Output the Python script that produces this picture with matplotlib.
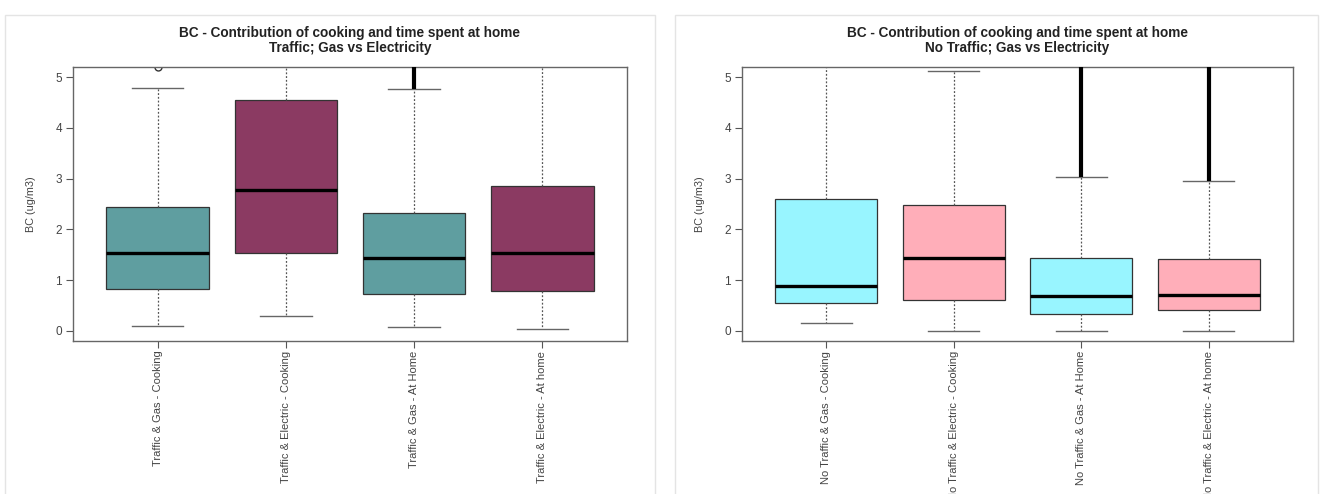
import matplotlib.pyplot as plt
from matplotlib.patches import Rectangle

plt.rcParams["font.family"] = ["Liberation Sans", "DejaVu Sans"]

# ------------------------------------------------------------
# Data (BC in ug/m3)
# ------------------------------------------------------------
left_labels = ["Traffic & Gas - Cooking", "Traffic & Electric - Cooking",
               "Traffic & Gas - At Home", "Traffic & Electric - At home"]
left_whislo = [0.10, 0.30, 0.08, 0.04]
left_q1     = [0.82, 1.54, 0.72, 0.78]
left_med    = [1.53, 2.78, 1.44, 1.53]
left_q3     = [2.44, 4.55, 2.32, 2.86]
left_whishi = [4.79, 5.60, 4.76, 5.60]
left_fliers = [[5.2], [], [], []]
left_dense  = [None, None, (4.76, 5.2), None]   # stacked outliers (from, to)
left_colors = ["#5F9EA0", "#8B3A62", "#5F9EA0", "#8B3A62"]

right_labels = ["No Traffic & Gas - Cooking", "No Traffic & Electric - Cooking",
                "No Traffic & Gas - At Home", "No Traffic & Electric - At home"]
right_whislo = [0.15, 0.00, 0.00, 0.00]
right_q1     = [0.55, 0.61, 0.34, 0.41]
right_med    = [0.88, 1.44, 0.69, 0.71]
right_q3     = [2.59, 2.48, 1.43, 1.41]
right_whishi = [5.60, 5.13, 3.04, 2.96]
right_fliers = [[], [], [], []]
right_dense  = [None, None, (3.04, 5.2), (2.96, 5.2)]
right_colors = ["#98F5FF", "#FFAEB9", "#98F5FF", "#FFAEB9"]

titles = ["Traffic; Gas vs Electricity", "No Traffic; Gas vs Electricity"]

# ------------------------------------------------------------
# Figure
# ------------------------------------------------------------
fig = plt.figure(figsize=(13.22, 4.94), dpi=100)

# light screenshot frames around each panel
for x0, x1 in [(5, 655), (675, 1318)]:
    fig.patches.append(Rectangle((x0 / 1322, -0.1), (x1 - x0) / 1322, 1.1 - 15 / 494,
                                 transform=fig.transFigure, fill=False,
                                 edgecolor="#e4e4e4", linewidth=1))

ax_left = fig.add_axes([0.0552, 0.3097, 0.4191, 0.5547])
ax_right = fig.add_axes([0.5613, 0.3097, 0.4168, 0.5547])


def draw_panel(ax, labels, whislo, q1, med, q3, whishi, fliers, dense, colors, subtitle):
    stats = []
    for i in range(len(labels)):
        stats.append(dict(whislo=whislo[i], q1=q1[i], med=med[i], q3=q3[i],
                          whishi=whishi[i], fliers=fliers[i]))
    pos = list(range(1, len(labels) + 1))
    bp = ax.bxp(stats, positions=pos, widths=0.8, patch_artist=True,
                showfliers=True,
                boxprops=dict(edgecolor="#333333", linewidth=0.9),
                medianprops=dict(color="black", linewidth=2.4),
                whiskerprops=dict(color="#555555", linewidth=0.9, linestyle=(0, (1.5, 1.5))),
                capprops=dict(color="#666666", linewidth=1.0),
                capwidths=0.4,
                flierprops=dict(marker="o", markerfacecolor="none",
                                markeredgecolor="#333333", markersize=5))
    for patch, c in zip(bp["boxes"], colors):
        patch.set_facecolor(c)

    # densely stacked outliers look like a thick black bar
    for p, d in zip(pos, dense):
        if d is not None:
            ax.vlines(p, d[0], d[1], color="black", linewidth=3, zorder=3)

    ax.set_xlim(0.34, 4.66)
    ax.set_ylim(-0.2, 5.2)
    ax.set_yticks([0, 1, 2, 3, 4, 5])
    ax.set_xticks(pos)
    ax.set_xticklabels(labels, rotation=90, fontsize=8, color="#444444", va="top")
    ax.tick_params(axis="y", labelsize=8.5, labelcolor="#444444", color="#555555",
                   length=5, pad=3)
    ax.tick_params(axis="x", color="#555555", length=5, pad=2)
    ax.set_ylabel("BC (ug/m3)", fontsize=7.8, color="#444444", labelpad=14)
    for s in ax.spines.values():
        s.set_color("#666666")
        s.set_linewidth(1)

    ax.text(0.5, 1.124, "BC - Contribution of cooking and time spent at home",
            transform=ax.transAxes, ha="center", va="center",
            fontsize=9.8, fontweight="bold", color="#222222")
    ax.text(0.5, 1.069, subtitle, transform=ax.transAxes, ha="center", va="center",
            fontsize=9.8, fontweight="bold", color="#222222")


draw_panel(ax_left, left_labels, left_whislo, left_q1, left_med, left_q3,
           left_whishi, left_fliers, left_dense, left_colors, titles[0])
draw_panel(ax_right, right_labels, right_whislo, right_q1, right_med, right_q3,
           right_whishi, right_fliers, right_dense, right_colors, titles[1])

fig.savefig("out.png", dpi=100)
